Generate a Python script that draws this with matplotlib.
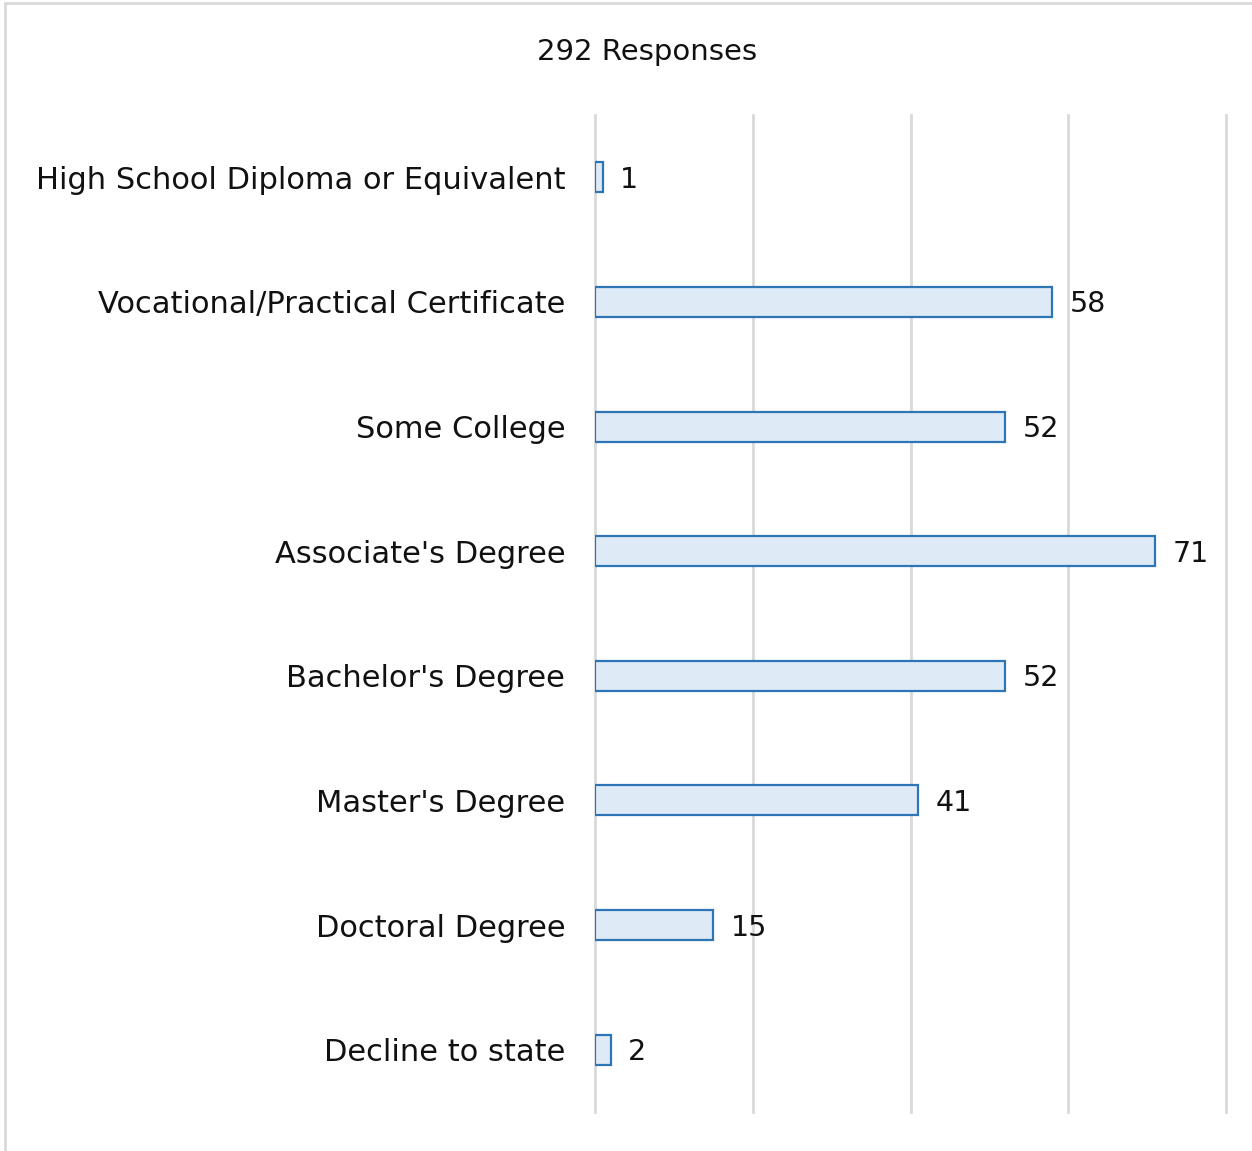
import matplotlib
matplotlib.use('Agg')
import matplotlib.pyplot as plt
from matplotlib.patches import Rectangle

categories = [
    'High School Diploma or Equivalent',
    'Vocational/Practical Certificate',
    'Some College',
    "Associate's Degree",
    "Bachelor's Degree",
    "Master's Degree",
    'Doctoral Degree',
    'Decline to state',
]
counts = [1, 58, 52, 71, 52, 41, 15, 2]
title = '292 Responses'

plt.rcParams['font.family'] = ['DejaVu Sans']
fs = 22

fig = plt.figure(figsize=(12.52, 11.51), dpi=100)
ax = fig.add_axes([595 / 1252, 1 - 1112 / 1151, (1226 - 595) / 1252, (1112 - 115) / 1151])

# chart frame (light grey, top and left only visible)
fig.patches.append(Rectangle((5 / 1252, -0.1), 1.2, 1 - 3 / 1151 + 0.1,
                             transform=fig.transFigure, fill=False,
                             edgecolor='#d9d9d9', linewidth=2))

y = list(range(len(categories)))
ax.barh(y, counts, height=0.24, color='#deeaf6', edgecolor='#2e75b6', linewidth=1.6, zorder=3)

for yi, v in zip(y, counts):
    ax.text(v + 2.2, yi + 0.02, str(v), va='center', ha='left', fontsize=20.5, color='#111111')

ax.set_xlim(0, 80)
ax.set_ylim(len(categories) - 0.5, -0.5)
ax.set_xticks([0, 20, 40, 60, 80])
ax.xaxis.grid(True, color='#d9d9d9', linewidth=2, zorder=0)
for gl in ax.get_xgridlines():
    gl.set_clip_on(False)
ax.set_xticklabels([])
ax.tick_params(axis='x', length=0)
ax.tick_params(axis='y', length=0, pad=21.5, labelsize=fs, labelcolor='#111111')
ax.set_yticks(y)
ax.set_yticklabels(categories)
for s in ax.spines.values():
    s.set_visible(False)

fig.text(647 / 1252, 1 - 52 / 1151, title, ha='center', va='center', fontsize=21, color='#111111')

fig.savefig('out.png', dpi=100)
